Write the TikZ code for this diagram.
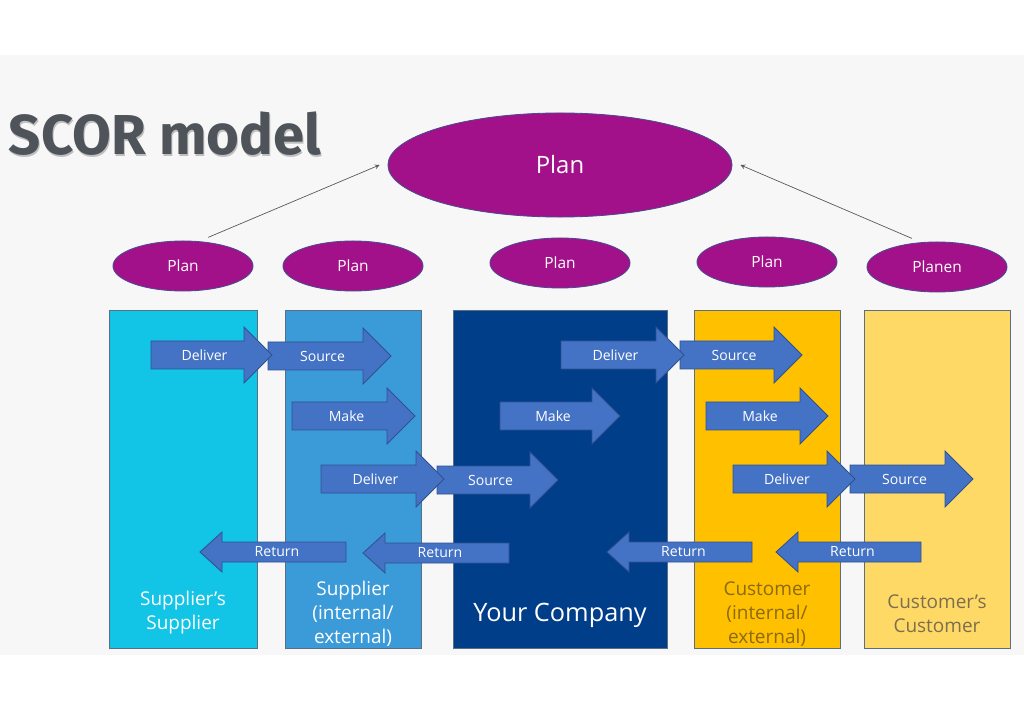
\documentclass[tikz,border=0pt]{standalone}
\usepackage{fontspec}
\setmainfont{Open Sans}
\newfontfamily\titlefont{Fira Sans}
\usetikzlibrary{shapes.geometric}

\definecolor{bggray}{HTML}{F7F7F7}
\definecolor{titlegray}{HTML}{4E5459}
\definecolor{planpurple}{HTML}{A3118A}
\definecolor{planedge}{HTML}{4A4A8E}
\definecolor{colA}{HTML}{12C4E5}
\definecolor{colB}{HTML}{3B9BD9}
\definecolor{colC}{HTML}{003E8A}
\definecolor{colD}{HTML}{FFC000}
\definecolor{colE}{HTML}{FFD966}
\definecolor{coledge}{HTML}{5B6F84}
\definecolor{arrowfill}{HTML}{4472C4}
\definecolor{arrowedge}{HTML}{2F528F}
\definecolor{custtext}{HTML}{8A6A12}
\definecolor{custtextB}{HTML}{7D6E4E}

\tikzset{
  plan/.style={ellipse, draw=planedge, line width=0.6pt, fill=planpurple, text=white,
    inner sep=0pt, minimum width=3.5cm, minimum height=1.25cm, font=\fontsize{11}{13}\selectfont},
  column/.style={draw=coledge, line width=0.6pt, anchor=north west, inner sep=0pt,
    outer sep=0pt, minimum height=8.45cm},
  collabel/.style={align=center, font=\fontsize{13.5}{17}\selectfont},
  blk/.style={fill=arrowfill, draw=arrowedge, line width=0.6pt},
  blktext/.style={text=white, font=\fontsize{10}{12}\selectfont, inner sep=0pt},
  link/.style={draw=black!65, line width=0.5pt, ->, >=stealth},
  titletext/.style={anchor=west, font=\titlefont\bfseries\fontsize{40}{48}\selectfont},
}

% name, left end, middle, length, text
\newcommand{\fwdarrow}[5]{%
  \draw[blk] (#2,#3-14) -- (#2+#4-28,#3-14) -- (#2+#4-28,#3-28) -- (#2+#4,#3)
    -- (#2+#4-28,#3+28) -- (#2+#4-28,#3+14) -- (#2,#3+14) -- cycle;
  \node[blktext] (#1) at (#2+#4/2-7,#3) {#5};
}
% name, tip, middle, length, text
\newcommand{\backarrow}[5]{%
  \draw[blk] (#2,#3) -- (#2+22,#3-20) -- (#2+22,#3-10) -- (#2+#4,#3-10)
    -- (#2+#4,#3+10) -- (#2+22,#3+10) -- (#2+22,#3+20) -- cycle;
  \node[blktext] (#1) at (#2+#4/2+4,#3) {#5};
}

\begin{document}
\begin{tikzpicture}[x=0.025cm, y=-0.025cm]

\useasboundingbox (0,0) rectangle (1024,720);
\fill[white] (0,0) rectangle (1024,720);
\fill[bggray] (0,55) rectangle (1024,655);

\node[titletext, text=black!25] (titleshadow) at (5,136) {SCOR model};
\node[titletext, text=titlegray] (title) at (4,134) {SCOR model};

\node[plan, minimum width=8.6cm, minimum height=2.6cm, font=\fontsize{17}{20}\selectfont]
  (mainplan) at (560,165) {Plan};

\node[plan] (plan1) at (183,266) {Plan};
\node[plan] (plan2) at (353,266) {Plan};
\node[plan] (plan3) at (560,263) {Plan};
\node[plan] (plan4) at (767,262) {Plan};
\node[plan] (plan5) at (937,267) {Planen};

\draw[link] ([xshift=0.63cm, yshift=0.08cm]plan1.north) -- ([xshift=-0.2cm]mainplan.west);
\draw[link] ([xshift=-0.63cm, yshift=0.08cm]plan5.north) -- ([xshift=0.2cm]mainplan.east);

\node[column, fill=colA, minimum width=3.7cm] (supsup) at (109,310) {};
\node[column, fill=colB, minimum width=3.4cm] (sup) at (285,310) {};
\node[column, fill=colC, minimum width=5.35cm] (comp) at (453,310) {};
\node[column, fill=colD, minimum width=3.65cm] (cust) at (694,310) {};
\node[column, fill=colE, minimum width=3.65cm] (custcust) at (864,310) {};

\node[collabel, text=white] (supsuplabel) at (183,613) {Supplier’s\\Supplier};
\node[collabel, text=white] (suplabel) at (353,614) {Supplier\\(internal/\\external)};
\node[collabel, text=white, font=\fontsize{18}{22}\selectfont] (complabel) at (560,615) {Your Company};
\node[collabel, text=custtext] (custlabel) at (767,614) {Customer\\(internal/\\external)};
\node[collabel, text=custtextB] (custcustlabel) at (937,614) {Customer’s\\Customer};

\fwdarrow{srcA}{268}{356}{123}{Source}
\fwdarrow{delA}{151}{355}{121}{Deliver}
\fwdarrow{srcC}{680}{355}{122}{Source}
\fwdarrow{delC}{561}{355}{123}{Deliver}

\fwdarrow{makeB}{292}{416}{123}{Make}
\fwdarrow{makeC}{500}{416}{120}{Make}
\fwdarrow{makeD}{706}{416}{122}{Make}

\fwdarrow{srcB}{437}{480}{121}{Source}
\fwdarrow{delB}{321}{479}{123}{Deliver}
\fwdarrow{srcD}{850}{479}{123}{Source}
\fwdarrow{delD}{733}{479}{122}{Deliver}

\backarrow{retA}{200}{552}{146}{Return}
\backarrow{retB}{363}{553}{146}{Return}
\backarrow{retC}{607}{552}{145}{Return}
\backarrow{retD}{776}{552}{145}{Return}

\end{tikzpicture}
\end{document}
